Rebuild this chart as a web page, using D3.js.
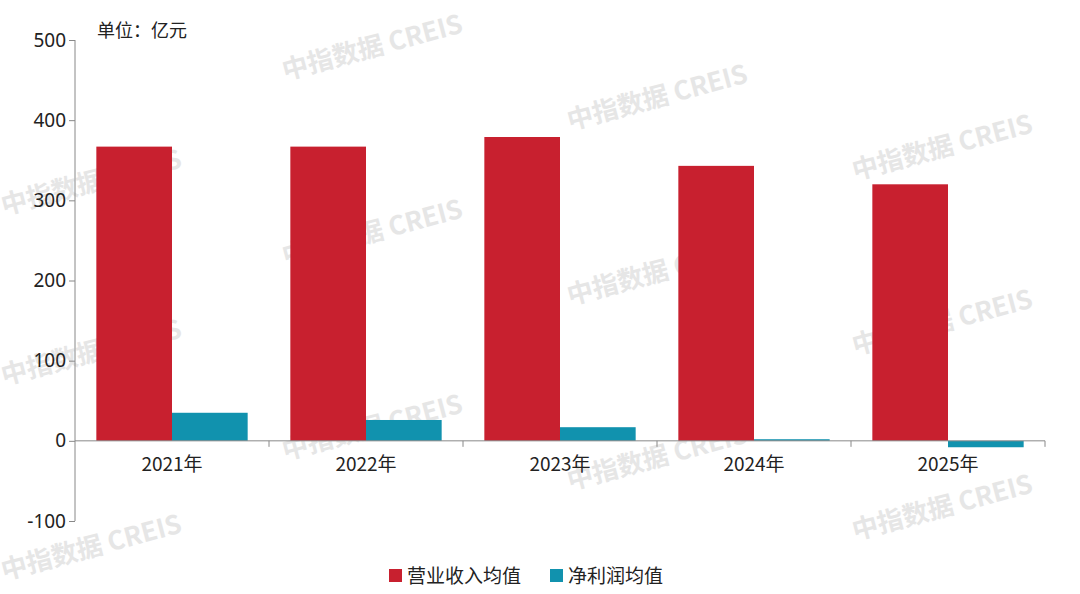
<!DOCTYPE html>
<html><head><meta charset="utf-8">
<script src="https://cdn.jsdelivr.net/npm/d3@7"></script>
<style>body{margin:0;background:#fff}svg{font-family:"Noto Sans CJK SC","Noto Sans",sans-serif}</style>
</head><body><svg id="c" width="1080" height="594"></svg>
<script>
// data
var years = ["2021年", "2022年", "2023年", "2024年", "2025年"];
var revenue = [367, 367, 379, 343, 320];
var profit = [35, 26, 17, 2, -8];
var seriesNames = ["营业收入均值", "净利润均值"];
var colors = ["#c8202f", "#1192ae"];
var yTicks = [-100, 0, 100, 200, 300, 400, 500];

var svg = d3.select("#c");
var y = d3.scaleLinear().domain([-100, 500]).range([521, 40]);
var x = d3.scaleBand().domain(years).range([75, 1045]).paddingInner(0.22).paddingOuter(0.11);
var x1 = d3.scaleBand().domain([0, 1]).range([0, x.bandwidth()]);

// watermark
var wm = svg.append("g").attr("fill", "#e6e6e6").attr("font-size", 26).attr("font-weight", "bold");
[[4, 215], [285, 80], [570, 130], [855, 180], [4, 385], [285, 265], [570, 305], [855, 355], [4, 580], [285, 460], [570, 490], [855, 540]].forEach(function (p) {
    wm.append("text").attr("transform", "translate(" + p[0] + "," + p[1] + ") rotate(-15)").text("中指数据 CREIS");
});

// bars
var g = svg.append("g");
years.forEach(function (yr, i) {
    [revenue[i], profit[i]].forEach(function (v, j) {
        g.append("rect")
            .attr("x", x(yr) + x1(j)).attr("width", x1.bandwidth())
            .attr("y", y(Math.max(0, v))).attr("height", Math.abs(y(v) - y(0)))
            .attr("fill", colors[j]);
    });
});

// y axis
var ya = svg.append("g").attr("transform", "translate(75,0)")
    .call(d3.axisLeft(y).tickValues(yTicks).tickSize(6).tickFormat(function (d) { return String(d); }));
ya.selectAll("text").attr("font-size", 19).attr("fill", "#222").attr("font-family", "Noto Sans");
ya.selectAll("line,path").attr("stroke", "#888");
ya.select(".domain").attr("d", "M0,40V521");

// x axis at zero
var step = x.step();
var xa = svg.append("g").attr("transform", "translate(0," + y(0) + ")");
xa.append("line").attr("x1", 75).attr("x2", 1045).attr("stroke", "#888");
years.forEach(function (yr, i) {
    var cx = x(yr) + x.bandwidth() / 2;
    xa.append("line").attr("x1", cx + step / 2).attr("x2", cx + step / 2).attr("y1", 0).attr("y2", 6).attr("stroke", "#888");
    xa.append("text").attr("x", cx).attr("y", 30).attr("text-anchor", "middle")
        .attr("font-size", 19).attr("fill", "#222").text(yr);
});

svg.append("text").attr("x", 97).attr("y", 37).attr("font-size", 18).attr("fill", "#222").text("单位：亿元");

// legend
var lg = svg.append("g").attr("font-size", 19).attr("fill", "#222");
[[389, 0], [550, 1]].forEach(function (p) {
    lg.append("rect").attr("x", p[0]).attr("y", 569).attr("width", 13).attr("height", 13).attr("fill", colors[p[1]]);
    lg.append("text").attr("x", p[0] + 18).attr("y", 583).text(seriesNames[p[1]]);
});
</script></body></html>
